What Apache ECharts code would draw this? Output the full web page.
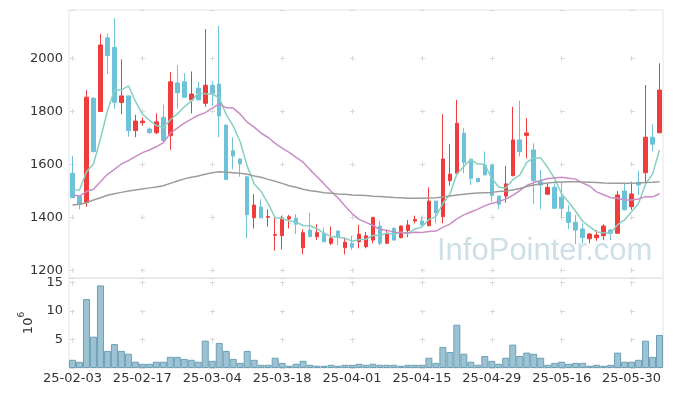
<!DOCTYPE html>
<html><head><meta charset="utf-8">
<script src="https://cdn.jsdelivr.net/npm/echarts@6/dist/echarts.min.js"></script>
<style>html,body{margin:0;padding:0;background:#fff}#c{width:673px;height:396px}</style>
</head><body><div id="c"></div>
<script>
const dates = ['25-02-03','25-02-04','25-02-05','25-02-06','25-02-07','25-02-10','25-02-11','25-02-12','25-02-13','25-02-14',
'25-02-17','25-02-18','25-02-19','25-02-20','25-02-21','25-02-24','25-02-25','25-02-26','25-02-27','25-02-28',
'25-03-04','25-03-05','25-03-06','25-03-07','25-03-10','25-03-11','25-03-12','25-03-13','25-03-14','25-03-17',
'25-03-18','25-03-19','25-03-20','25-03-21','25-03-24','25-03-25','25-03-26','25-03-27','25-03-28','25-03-31',
'25-04-01','25-04-02','25-04-03','25-04-04','25-04-07','25-04-08','25-04-09','25-04-10','25-04-11','25-04-14',
'25-04-15','25-04-16','25-04-17','25-04-18','25-04-21','25-04-22','25-04-23','25-04-24','25-04-25','25-04-28',
'25-04-29','25-04-30','25-05-02','25-05-07','25-05-08','25-05-09','25-05-12','25-05-13','25-05-14','25-05-15',
'25-05-16','25-05-19','25-05-20','25-05-21','25-05-22','25-05-23','25-05-26','25-05-27','25-05-28','25-05-29',
'25-05-30','25-06-02','25-06-04','25-06-05','25-06-09'];

const openP = [1566,1478,1455,1849,1799,2077,2041,1833,1858,1727,1757,1733,1719,1777,1708,1907,1911,1843,1887,1830,
1898,1903,1748,1651,1620,1553,1398,1439,1400,1332,1331,1394,1396,1285,1352,1327,1340,1302,1348,1285,
1302,1308,1289,1314,1367,1302,1358,1323,1350,1386,1386,1368,1461,1402,1538,1566,1717,1619,1547,1597,
1597,1480,1480,1557,1692,1709,1654,1534,1487,1513,1476,1419,1381,1356,1319,1323,1331,1352,1340,1499,
1440,1532,1568,1702,1719];
const closeP = [1474,1449,1853,1648,2050,2010,1834,1858,1727,1763,1763,1719,1760,1689,1911,1870,1853,1865,1843,1898,
1868,1782,1543,1631,1601,1410,1446,1398,1403,1335,1394,1402,1374,1342,1327,1342,1308,1321,1327,1306,
1287,1336,1330,1399,1302,1336,1314,1367,1371,1392,1371,1461,1417,1620,1563,1755,1606,1547,1534,1560,
1482,1449,1526,1692,1648,1718,1538,1522,1513,1434,1434,1381,1352,1323,1337,1333,1367,1340,1484,1428,
1488,1522,1702,1676,1880];
const lowP = [1472,1430,1440,1645,1799,1941,1809,1789,1704,1702,1745,1716,1714,1687,1654,1810,1851,1792,1841,1817,
1820,1702,1540,1581,1553,1321,1358,1396,1365,1274,1279,1358,1337,1260,1325,1314,1306,1295,1295,1260,
1277,1283,1283,1302,1294,1300,1312,1321,1325,1377,1369,1366,1377,1377,1519,1563,1566,1522,1532,1558,
1459,1430,1455,1555,1629,1622,1450,1430,1485,1432,1400,1355,1299,1302,1302,1311,1314,1314,1338,1426,
1428,1484,1528,1648,1717];
const highP = [1632,1480,1880,1853,2092,2094,2151,1996,1860,1787,1777,1738,1792,1825,1948,1974,1943,1950,1911,2110,
1914,2122,1750,1702,1622,1555,1487,1468,1430,1400,1406,1409,1412,1355,1417,1374,1362,1365,1350,1323,
1331,1371,1345,1402,1386,1352,1362,1369,1390,1406,1402,1513,1463,1789,1676,1843,1736,1621,1549,1648,
1599,1482,1594,1817,1840,1774,1679,1579,1528,1528,1534,1446,1409,1377,1339,1352,1374,1356,1499,1528,
1534,1576,1899,1751,1981];
const ma5 = [1503,1503,1572,1601,1695,1802,1879,1880,1896,1838,1789,1766,1746,1739,1768,1790,1817,1838,1868,1866,
1865,1851,1787,1744,1685,1593,1526,1497,1452,1398,1395,1386,1382,1369,1368,1357,1339,1328,1325,1321,
1310,1315,1317,1332,1331,1341,1336,1344,1338,1356,1363,1392,1402,1452,1486,1563,1592,1618,1601,1600,
1546,1514,1510,1542,1559,1607,1624,1624,1588,1545,1488,1457,1423,1385,1365,1345,1342,1340,1372,1390,
1421,1452,1525,1563,1654];
const ma20 = [1484,1480,1497,1506,1534,1562,1581,1601,1614,1629,1644,1654,1666,1682,1717,1736,1755,1770,1785,1795,
1812,1828,1813,1812,1789,1759,1740,1717,1701,1679,1661,1645,1626,1608,1579,1553,1526,1498,1473,1443,
1414,1392,1381,1369,1354,1351,1344,1343,1341,1344,1343,1346,1348,1362,1374,1394,1409,1420,1431,1443,
1453,1459,1469,1483,1501,1520,1531,1539,1546,1548,1551,1547,1544,1529,1518,1496,1485,1474,1472,1465,
1465,1469,1478,1477,1489];
const ma60 = [1446,1449,1455,1465,1474,1483,1489,1494,1499,1503,1507,1511,1514,1519,1528,1537,1545,1551,1556,1562,
1568,1572,1570,1568,1566,1562,1556,1551,1543,1536,1528,1519,1513,1506,1500,1497,1493,1491,1488,1487,
1484,1483,1482,1479,1478,1477,1475,1474,1472,1472,1472,1473,1474,1477,1480,1484,1487,1490,1492,1493,
1494,1497,1499,1503,1509,1516,1522,1526,1529,1532,1533,1534,1534,1533,1532,1531,1529,1528,1528,1528,
1528,1529,1531,1532,1534];
const volume = [1.44,1.09,12.1,5.5,14.5,3.0,4.2,3.0,2.5,1.1,
0.74,0.74,1.1,1.1,1.96,1.96,1.6,1.44,1.1,4.8,
1.26,4.4,3.0,1.6,0.9,3.0,1.44,0.56,0.56,1.8,
0.9,0.39,0.74,1.26,0.56,0.39,0.39,0.56,0.39,0.56,
0.56,0.74,0.56,0.74,0.56,0.56,0.56,0.39,0.56,0.56,
0.56,1.8,0.9,3.7,2.8,7.6,2.5,1.1,0.56,2.1,
1.26,0.74,1.8,4.1,2.1,2.7,2.5,1.8,0.56,0.9,
1.1,0.74,0.9,0.9,0.39,0.56,0.39,0.56,2.7,1.1,
1.1,1.44,4.8,1.96,5.8];

const ohlc = dates.map((d, i) => [openP[i], closeP[i], lowP[i], highP[i]]);
const FONT = '"DejaVu Sans", sans-serif';
const crossColor = '#d9d9d9';
const plain = v => String(v);

const chart = echarts.init(document.getElementById('c'), null, {renderer: 'canvas'});
chart.setOption({
  animation: false,
  backgroundColor: '#fff',
  textStyle: {fontFamily: FONT},
  grid: [
    {left: 69, right: 10, top: 10, height: 268, show: true, borderColor: '#e4e4e4', borderWidth: 1, backgroundColor: 'transparent'},
    {left: 69, right: 10, top: 278, height: 90, show: true, borderColor: '#e4e4e4', borderWidth: 1, backgroundColor: 'transparent'}
  ],
  xAxis: [
    {type: 'category', data: dates, gridIndex: 0, boundaryGap: true,
     axisLine: {show: false}, axisTick: {show: false}, axisLabel: {show: false},
     splitLine: {show: true, interval: 9, alignWithLabel: true,
       lineStyle: {color: crossColor, width: 1, type: [5, 48], dashOffset: 7.2}}},
    {type: 'category', data: dates, gridIndex: 1, boundaryGap: true,
     axisLine: {show: false}, axisTick: {show: false},
     axisLabel: {interval: 9, color: '#333', fontSize: 13, margin: 4, fontFamily: FONT},
     splitLine: {show: true, interval: 9, alignWithLabel: true,
       lineStyle: {color: crossColor, width: 1, type: [5, 23.5], dashOffset: 25.7}}}
  ],
  yAxis: [
    {type: 'value', gridIndex: 0, min: 1171, max: 2182, splitNumber: 5,
     axisLine: {show: false}, axisTick: {show: false},
     axisLabel: {color: '#333', fontSize: 13, margin: 6, showMinLabel: false, showMaxLabel: false, fontFamily: FONT, formatter: plain},
     splitLine: {show: true, lineStyle: {color: crossColor, width: 1, type: [5, 65], dashOffset: 69}}},
    {type: 'value', gridIndex: 1, min: 0, max: 15.8, interval: 5,
     name: '{b|10}{s|6}', nameLocation: 'middle', nameRotate: 90, nameGap: 28,
     nameTextStyle: {color: '#333', rich: {
       b: {fontSize: 13, fontFamily: FONT, color: '#333', lineHeight: 18, verticalAlign: 'bottom'},
       s: {fontSize: 9, fontFamily: FONT, color: '#333', lineHeight: 18, verticalAlign: 'top', padding: [0, 0, 6, 0]}}},
     axisLine: {show: false}, axisTick: {show: false},
     axisLabel: {color: '#333', fontSize: 13, margin: 6, showMinLabel: false, showMaxLabel: false, fontFamily: FONT, formatter: plain},
     splitLine: {show: true, lineStyle: {color: crossColor, width: 1, type: [5, 65], dashOffset: 69}}}
  ],
  graphic: [{
    type: 'text', left: 437, top: 236, z: 0,
    style: {text: 'InfoPointer.com', fill: '#cedfe8', font: '31px "Liberation Sans", sans-serif'}
  }],
  series: [
    {type: 'candlestick', name: 'price', xAxisIndex: 0, yAxisIndex: 0, data: ohlc, barWidth: 4,
     itemStyle: {color: '#f03c3c', color0: '#6dc2d8', borderColor: '#f03c3c', borderColor0: '#6dc2d8', borderWidth: 1}},
    {type: 'line', name: 'MA5', data: ma5, symbol: 'none', lineStyle: {color: '#86cfc3', width: 1.5}, z: 3},
    {type: 'line', name: 'MA20', data: ma20, symbol: 'none', lineStyle: {color: '#c98dc6', width: 1.5}, z: 3},
    {type: 'line', name: 'MA60', data: ma60, symbol: 'none', lineStyle: {color: '#9c9c9c', width: 1.5}, z: 3},
    {type: 'bar', name: 'volume', xAxisIndex: 1, yAxisIndex: 1, data: volume, barCategoryGap: '0%',
     itemStyle: {color: '#9cc3d4', borderColor: '#6e9fb5', borderWidth: 1}}
  ]
});
</script></body></html>
